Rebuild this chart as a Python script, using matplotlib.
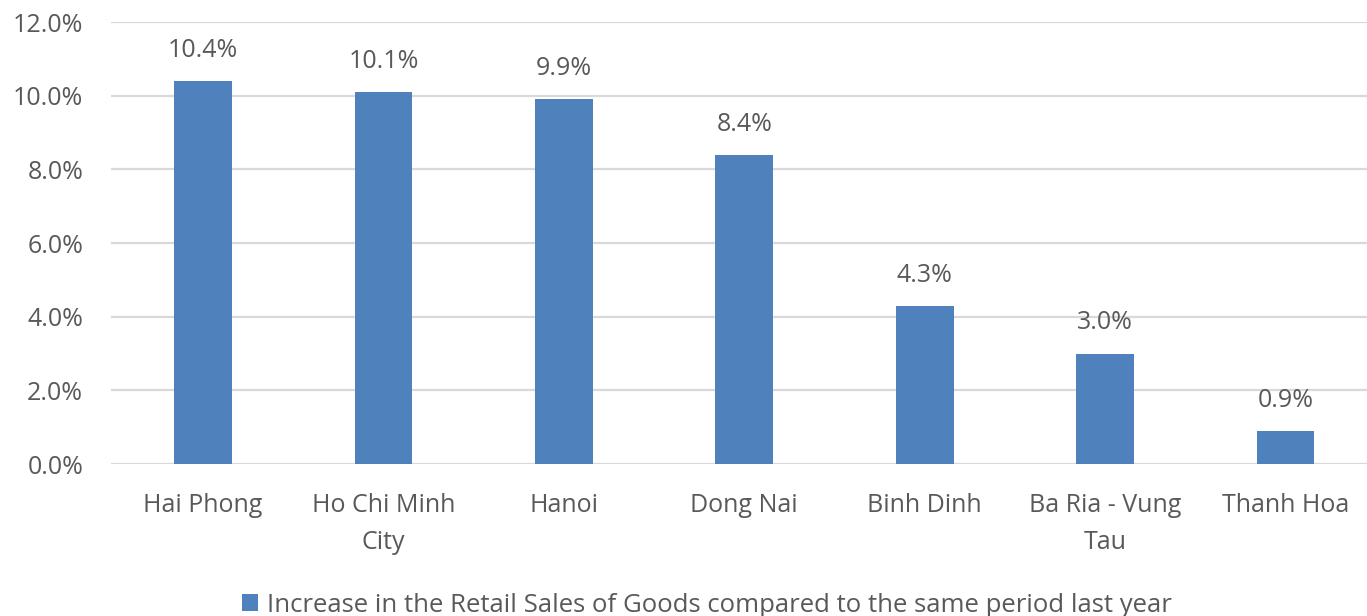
import matplotlib
matplotlib.use("Agg")
import matplotlib.pyplot as plt
from matplotlib.patches import Patch
from matplotlib.ticker import FuncFormatter

provinces = ["Hai Phong", "Ho Chi Minh\nCity", "Hanoi", "Dong Nai",
             "Binh Dinh", "Ba Ria - Vung\nTau", "Thanh Hoa"]
growth = [10.4, 10.1, 9.9, 8.4, 4.3, 3.0, 0.9]
series_name = "Increase in the Retail Sales of Goods compared to the same period last year"
y_ticks = [0, 2, 4, 6, 8, 10, 12]

plt.rcParams["font.family"] = ["Open Sans", "DejaVu Sans"]
text_color = "#595959"
bar_color = "#4F81BD"
fs = 18

fig = plt.figure(figsize=(13.67, 6.16), dpi=100)
ax = fig.add_axes([111 / 1367, 1 - 464 / 616, (1374 - 111) / 1367, (464 - 22) / 616])

x = list(range(len(provinces)))
ax.bar(x, growth, width=0.32, color=bar_color, zorder=3)

for xi, v in zip(x, growth):
    ax.annotate(f"{v:.1f}%", (xi, v), xytext=(0, 22), textcoords="offset points",
                ha="center", va="center", fontsize=fs, color=text_color)

ax.set_xlim(-0.51, len(provinces) - 0.51)
ax.set_ylim(0, 12)
ax.set_yticks(y_ticks)
ax.yaxis.set_major_formatter(FuncFormatter(lambda v, p: f"{v:.1f}%"))
ax.grid(axis="y", color="#D9D9D9", linewidth=1.6, zorder=0)
ax.set_xticks(x)
ax.set_xticklabels(provinces, fontsize=fs, color=text_color, linespacing=1.6)
ax.tick_params(axis="y", labelsize=fs, labelcolor=text_color, length=0, pad=20)
ax.tick_params(axis="x", length=0, pad=21)
for s in ax.spines.values():
    s.set_visible(False)

handle = Patch(facecolor=bar_color, edgecolor="none")
fig.legend([handle], [series_name], loc="center", bbox_to_anchor=(707 / 1367, 1 - 605 / 616),
           frameon=False, fontsize=18.5, handlelength=0.6, handleheight=0.6,
           handletextpad=0.35, labelcolor=text_color)

fig.savefig("out.png", dpi=100)
